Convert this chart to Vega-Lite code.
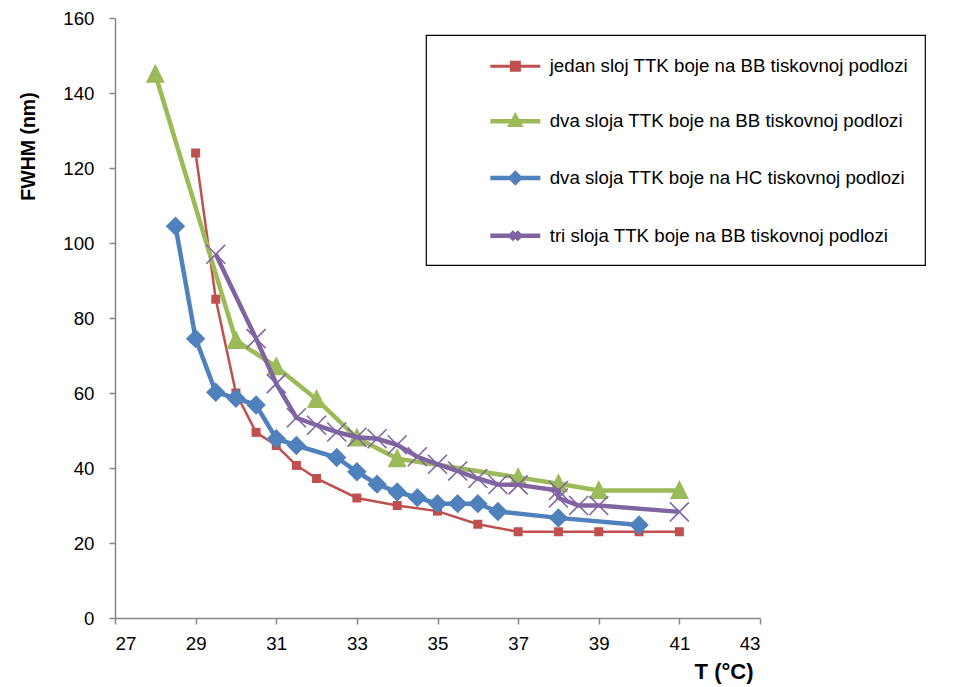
{
  "$schema": "https://vega.github.io/schema/vega-lite/v6.json",
  "autosize": {"type": "none"},
  "width": 645,
  "height": 600,
  "padding": {"left": 115, "top": 18, "right": 208, "bottom": 69},
  "background": "white",
  "config": {
    "view": {"stroke": null},
    "font": "Liberation Sans",
    "axis": {
      "grid": false,
      "domainColor": "#868686",
      "domainWidth": 1.5,
      "tickColor": "#868686",
      "tickWidth": 1.5,
      "tickSize": 6,
      "labelFont": "Liberation Sans",
      "labelFontSize": 18.7,
      "labelColor": "#000000",
      "titleFont": "Liberation Sans",
      "titleFontSize": 19.5,
      "titleFontWeight": "bold",
      "titleColor": "#000000"
    }
  },
  "data": {
    "values": [
      {"s": "jedan sloj TTK boje na BB tiskovnoj podlozi", "T": 29, "FWHM": 124},
      {"s": "jedan sloj TTK boje na BB tiskovnoj podlozi", "T": 29.5, "FWHM": 85},
      {"s": "jedan sloj TTK boje na BB tiskovnoj podlozi", "T": 30, "FWHM": 60},
      {"s": "jedan sloj TTK boje na BB tiskovnoj podlozi", "T": 30.5, "FWHM": 49.5},
      {"s": "jedan sloj TTK boje na BB tiskovnoj podlozi", "T": 31, "FWHM": 46},
      {"s": "jedan sloj TTK boje na BB tiskovnoj podlozi", "T": 31.5, "FWHM": 40.7},
      {"s": "jedan sloj TTK boje na BB tiskovnoj podlozi", "T": 32, "FWHM": 37.2},
      {"s": "jedan sloj TTK boje na BB tiskovnoj podlozi", "T": 33, "FWHM": 32},
      {"s": "jedan sloj TTK boje na BB tiskovnoj podlozi", "T": 34, "FWHM": 30},
      {"s": "jedan sloj TTK boje na BB tiskovnoj podlozi", "T": 35, "FWHM": 28.5},
      {"s": "jedan sloj TTK boje na BB tiskovnoj podlozi", "T": 36, "FWHM": 25},
      {"s": "jedan sloj TTK boje na BB tiskovnoj podlozi", "T": 37, "FWHM": 23},
      {"s": "jedan sloj TTK boje na BB tiskovnoj podlozi", "T": 38, "FWHM": 23},
      {"s": "jedan sloj TTK boje na BB tiskovnoj podlozi", "T": 39, "FWHM": 23},
      {"s": "jedan sloj TTK boje na BB tiskovnoj podlozi", "T": 40, "FWHM": 23},
      {"s": "jedan sloj TTK boje na BB tiskovnoj podlozi", "T": 41, "FWHM": 23},
      {"s": "dva sloja TTK boje na BB tiskovnoj podlozi", "T": 28, "FWHM": 145},
      {"s": "dva sloja TTK boje na BB tiskovnoj podlozi", "T": 30, "FWHM": 74},
      {"s": "dva sloja TTK boje na BB tiskovnoj podlozi", "T": 31, "FWHM": 67},
      {"s": "dva sloja TTK boje na BB tiskovnoj podlozi", "T": 32, "FWHM": 58.3},
      {"s": "dva sloja TTK boje na BB tiskovnoj podlozi", "T": 33, "FWHM": 48},
      {"s": "dva sloja TTK boje na BB tiskovnoj podlozi", "T": 34, "FWHM": 42.5},
      {"s": "dva sloja TTK boje na BB tiskovnoj podlozi", "T": 37, "FWHM": 37.5},
      {"s": "dva sloja TTK boje na BB tiskovnoj podlozi", "T": 38, "FWHM": 35.8},
      {"s": "dva sloja TTK boje na BB tiskovnoj podlozi", "T": 39, "FWHM": 34},
      {"s": "dva sloja TTK boje na BB tiskovnoj podlozi", "T": 41, "FWHM": 34},
      {"s": "dva sloja TTK boje na HC tiskovnoj podlozi", "T": 28.5, "FWHM": 104.5},
      {"s": "dva sloja TTK boje na HC tiskovnoj podlozi", "T": 29, "FWHM": 74.5},
      {"s": "dva sloja TTK boje na HC tiskovnoj podlozi", "T": 29.5, "FWHM": 60.2},
      {"s": "dva sloja TTK boje na HC tiskovnoj podlozi", "T": 30, "FWHM": 58.6},
      {"s": "dva sloja TTK boje na HC tiskovnoj podlozi", "T": 30.5, "FWHM": 56.8},
      {"s": "dva sloja TTK boje na HC tiskovnoj podlozi", "T": 31, "FWHM": 47.8},
      {"s": "dva sloja TTK boje na HC tiskovnoj podlozi", "T": 31.5, "FWHM": 46},
      {"s": "dva sloja TTK boje na HC tiskovnoj podlozi", "T": 32.5, "FWHM": 42.8},
      {"s": "dva sloja TTK boje na HC tiskovnoj podlozi", "T": 33, "FWHM": 39},
      {"s": "dva sloja TTK boje na HC tiskovnoj podlozi", "T": 33.5, "FWHM": 35.7},
      {"s": "dva sloja TTK boje na HC tiskovnoj podlozi", "T": 34, "FWHM": 33.6},
      {"s": "dva sloja TTK boje na HC tiskovnoj podlozi", "T": 34.5, "FWHM": 32.1},
      {"s": "dva sloja TTK boje na HC tiskovnoj podlozi", "T": 35, "FWHM": 30.5},
      {"s": "dva sloja TTK boje na HC tiskovnoj podlozi", "T": 35.5, "FWHM": 30.5},
      {"s": "dva sloja TTK boje na HC tiskovnoj podlozi", "T": 36, "FWHM": 30.5},
      {"s": "dva sloja TTK boje na HC tiskovnoj podlozi", "T": 36.5, "FWHM": 28.4},
      {"s": "dva sloja TTK boje na HC tiskovnoj podlozi", "T": 38, "FWHM": 26.7},
      {"s": "dva sloja TTK boje na HC tiskovnoj podlozi", "T": 40, "FWHM": 24.8},
      {"s": "tri sloja TTK boje na BB tiskovnoj podlozi", "T": 29.5, "FWHM": 97},
      {"s": "tri sloja TTK boje na BB tiskovnoj podlozi", "T": 30.5, "FWHM": 74.5},
      {"s": "tri sloja TTK boje na BB tiskovnoj podlozi", "T": 31, "FWHM": 62.5},
      {"s": "tri sloja TTK boje na BB tiskovnoj podlozi", "T": 31.5, "FWHM": 53.4},
      {"s": "tri sloja TTK boje na BB tiskovnoj podlozi", "T": 32, "FWHM": 51.4},
      {"s": "tri sloja TTK boje na BB tiskovnoj podlozi", "T": 32.5, "FWHM": 49.6},
      {"s": "tri sloja TTK boje na BB tiskovnoj podlozi", "T": 33, "FWHM": 48.2},
      {"s": "tri sloja TTK boje na BB tiskovnoj podlozi", "T": 33.5, "FWHM": 47.8},
      {"s": "tri sloja TTK boje na BB tiskovnoj podlozi", "T": 34, "FWHM": 46.2},
      {"s": "tri sloja TTK boje na BB tiskovnoj podlozi", "T": 34.5, "FWHM": 43},
      {"s": "tri sloja TTK boje na BB tiskovnoj podlozi", "T": 35, "FWHM": 41},
      {"s": "tri sloja TTK boje na BB tiskovnoj podlozi", "T": 35.5, "FWHM": 39.2},
      {"s": "tri sloja TTK boje na BB tiskovnoj podlozi", "T": 36, "FWHM": 37.2},
      {"s": "tri sloja TTK boje na BB tiskovnoj podlozi", "T": 36.5, "FWHM": 35.6},
      {"s": "tri sloja TTK boje na BB tiskovnoj podlozi", "T": 37, "FWHM": 35.5},
      {"s": "tri sloja TTK boje na BB tiskovnoj podlozi", "T": 38, "FWHM": 34},
      {"s": "tri sloja TTK boje na BB tiskovnoj podlozi", "T": 38, "FWHM": 32},
      {"s": "tri sloja TTK boje na BB tiskovnoj podlozi", "T": 38.5, "FWHM": 30},
      {"s": "tri sloja TTK boje na BB tiskovnoj podlozi", "T": 39, "FWHM": 30},
      {"s": "tri sloja TTK boje na BB tiskovnoj podlozi", "T": 41, "FWHM": 28.3}
    ]
  },
  "encoding": {
    "x": {
      "field": "T",
      "type": "quantitative",
      "scale": {"domain": [27, 43], "nice": false, "zero": false},
      "axis": {
        "values": [27, 29, 31, 33, 35, 37, 39, 41, 43],
        "title": "T (°C)",
        "labelPadding": 10,
        "titleFontSize": 22,
        "titleX": 638,
        "titleY": 60,
        "titleAlign": "right",
        "titleBaseline": "alphabetic"
      }
    },
    "y": {
      "field": "FWHM",
      "type": "quantitative",
      "scale": {"domain": [0, 160], "nice": false},
      "axis": {
        "values": [0, 20, 40, 60, 80, 100, 120, 140, 160],
        "title": "FWHM (nm)",
        "labelPadding": 15,
        "titleAngle": 270,
        "titleX": -87,
        "titleY": 128,
        "titleAlign": "center",
        "titleBaseline": "middle"
      }
    },
    "color": {
      "field": "s",
      "type": "nominal",
      "scale": {
        "domain": [
          "jedan sloj TTK boje na BB tiskovnoj podlozi",
          "dva sloja TTK boje na BB tiskovnoj podlozi",
          "dva sloja TTK boje na HC tiskovnoj podlozi",
          "tri sloja TTK boje na BB tiskovnoj podlozi"
        ],
        "range": ["#C0504D", "#9BBB59", "#4F81BD", "#8064A2"]
      },
      "legend": {
        "title": null,
        "orient": "none",
        "legendX": 311,
        "legendY": 17,
        "strokeColor": "#000000",
        "fillColor": "#ffffff",
        "padding": 16,
        "rowPadding": 28.8,
        "symbolOffset": 64,
        "labelOffset": 25,
        "symbolSize": 100,
        "labelFont": "Liberation Sans",
        "labelFontSize": 18.7,
        "labelColor": "#000000",
        "labelLimit": 700,
        "encode": {
          "legend": {"update": {"strokeWidth": {"value": 1.2}}},
          "labels": {"update": {"dy": {"value": 6}}},
          "symbols": {
            "update": {
              "shape": {"signal": "['M-5,1.2H5M-0.8,0.4H0.8V2H-0.8Z','M-5,1.2H5M0,0.3L0.9,1.9H-0.9Z','M-5,1.2H5M0,0.3L0.9,1.2L0,2.1L-0.9,1.2Z','M-5,1.2H5M-0.8,0.4L0.8,2M-0.8,2L0.8,0.4'][datum.index]"},
              "fill": {"signal": "scale('color', datum.value)"},
              "stroke": {"signal": "scale('color', datum.value)"},
              "strokeWidth": {"signal": "datum.index === 0 ? 3 : 4.5"},
              "opacity": {"value": 1}
            }
          }
        }
      }
    }
  },
  "layer": [
    {
      "transform": [{"filter": {"field": "s", "equal": "jedan sloj TTK boje na BB tiskovnoj podlozi"}}],
      "layer": [
        {"mark": {"type": "line", "strokeWidth": 2.5}},
        {"mark": {"type": "point", "filled": true, "opacity": 1, "size": 81, "shape": "M-1,-1H1V1H-1Z"}}
      ]
    },
    {
      "transform": [{"filter": {"field": "s", "equal": "dva sloja TTK boje na BB tiskovnoj podlozi"}}],
      "layer": [
        {"mark": {"type": "line", "strokeWidth": 4.5}},
        {"mark": {"type": "point", "filled": true, "opacity": 1, "size": 361, "shape": "M0,-1.1L1,0.9H-1Z"}}
      ]
    },
    {
      "transform": [{"filter": {"field": "s", "equal": "dva sloja TTK boje na HC tiskovnoj podlozi"}}],
      "layer": [
        {"mark": {"type": "line", "strokeWidth": 4.5}},
        {"mark": {"type": "point", "filled": true, "opacity": 1, "size": 380, "shape": "M0,-1L1,0L0,1L-1,0Z"}}
      ]
    },
    {
      "transform": [{"filter": {"field": "s", "equal": "tri sloja TTK boje na BB tiskovnoj podlozi"}}],
      "layer": [
        {"mark": {"type": "line", "strokeWidth": 4.5}},
        {"mark": {"type": "point", "filled": false, "opacity": 1, "size": 361, "strokeWidth": 1.6, "shape": "M-1,-1L1,1M-1,1L1,-1"}}
      ]
    }
  ]
}
